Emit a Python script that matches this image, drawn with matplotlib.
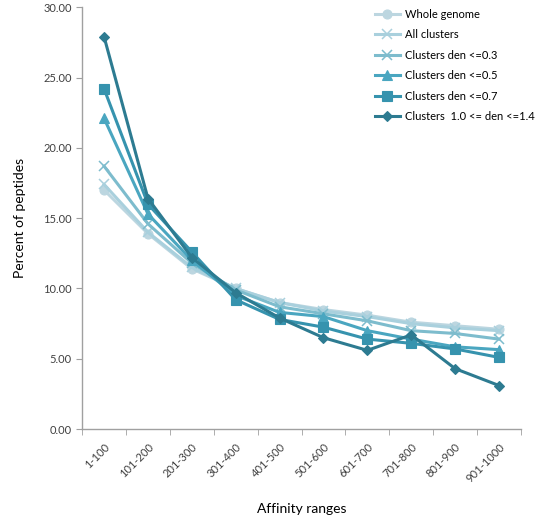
import matplotlib

matplotlib.use("Agg")
import matplotlib.pyplot as plt

plt.rcParams["font.family"] = ["Lato", "DejaVu Sans"]

# ---------------------------------------------------------------------------
# Data
# ---------------------------------------------------------------------------
categories = ["1-100", "101-200", "201-300", "301-400", "401-500",
              "501-600", "601-700", "701-800", "801-900", "901-1000"]

whole_genome = [17.0, 13.9, 11.4, 10.0, 9.0, 8.5, 8.1, 7.6, 7.35, 7.1]
all_clusters = [17.4, 14.0, 11.5, 10.0, 9.0, 8.4, 8.0, 7.5, 7.2, 7.0]
den_03 = [18.7, 14.6, 11.8, 9.9, 8.7, 8.2, 7.7, 7.0, 6.8, 6.4]
den_05 = [22.1, 15.3, 12.0, 9.5, 8.3, 8.0, 7.0, 6.4, 5.85, 5.65]
den_07 = [24.2, 16.0, 12.6, 9.2, 7.8, 7.25, 6.4, 6.1, 5.7, 5.1]
den_10_14 = [27.9, 16.4, 12.2, 9.7, 7.9, 6.5, 5.6, 6.7, 4.3, 3.1]

series = [
    ("Whole genome", whole_genome, "#bcd6e0", "o"),
    ("All clusters", all_clusters, "#a9d0dd", "x"),
    ("Clusters den <=0.3", den_03, "#7dbccd", "x"),
    ("Clusters den <=0.5", den_05, "#4aa6c0", "^"),
    ("Clusters den <=0.7", den_07, "#3693ae", "s"),
    ("Clusters  1.0 <= den <=1.4", den_10_14, "#2d7b91", "D"),
]

# ---- figure ----
fig = plt.figure(figsize=(5.37, 5.22), dpi=100)
ax = fig.add_axes([0.153, 0.178, 0.817, 0.808])

xs = list(range(len(categories)))
for label, vals, color, marker in series:
    ms = 5 if marker == "D" else 6.5
    ax.plot(xs, vals, color=color, marker=marker, linewidth=2.2,
            markersize=ms, markeredgewidth=1.1 if marker == "x" else 0.8,
            markeredgecolor=color, label=label)

ax.set_xlim(-0.5, len(categories) - 0.5)
ax.set_ylim(0, 30)

ax.set_yticks([0, 5, 10, 15, 20, 25, 30])
ax.set_yticklabels([f"{v:.2f}" for v in [0, 5, 10, 15, 20, 25, 30]],
                   fontsize=8, color="#404040")

# category labels at centres, tick marks at boundaries (Excel style)
ax.set_xticks(xs)
ax.set_xticklabels(categories, rotation=45, ha="right",
                   rotation_mode="anchor", fontsize=8, color="#404040")
ax.tick_params(axis="x", length=0, pad=9)
ax.set_xticks([x - 0.5 for x in range(len(categories) + 1)], minor=True)
ax.tick_params(axis="x", which="minor", length=4, color="#a0a0a0")
ax.tick_params(axis="y", length=4, color="#a0a0a0")

for side in ("top", "right"):
    ax.spines[side].set_visible(False)
for side in ("left", "bottom"):
    ax.spines[side].set_color("#a0a0a0")
    ax.spines[side].set_linewidth(1.0)

ax.set_ylabel("Percent of peptides", fontsize=10, labelpad=12)
ax.set_xlabel("Affinity ranges", fontsize=10, labelpad=13)

ax.legend(loc="upper right", bbox_to_anchor=(1.055, 1.02), frameon=False,
          fontsize=8, handlelength=2.2, labelspacing=0.85,
          handletextpad=0.5)

fig.savefig("out.png", dpi=100)
plt.close(fig)
